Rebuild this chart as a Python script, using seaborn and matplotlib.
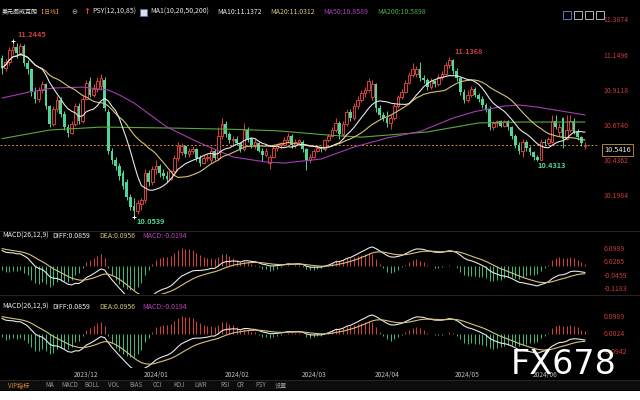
import numpy as np
import pandas as pd
import matplotlib
matplotlib.use("Agg")
import matplotlib.pyplot as plt
from matplotlib.patches import Rectangle
from matplotlib.lines import Line2D
import seaborn as sns

# ---------------- DATA ----------------
opens = [11.13, 11.06, 11.10, 11.18, 11.20, 11.16, 11.21, 11.09, 11.05, 10.90,
         10.85, 10.91, 10.95, 10.80, 10.68, 10.78, 10.84, 10.75, 10.66, 10.62,
         10.68, 10.80, 10.70, 10.85, 10.97, 10.88, 10.92, 10.94, 10.98, 10.76,
         10.50, 10.44, 10.40, 10.35, 10.29, 10.19, 10.13, 10.09, 10.14, 10.17,
         10.35, 10.29, 10.38, 10.40, 10.35, 10.33, 10.31, 10.36, 10.45, 10.49,
         10.53, 10.48, 10.50, 10.51, 10.45, 10.42, 10.45, 10.44, 10.50, 10.45,
         10.60, 10.68, 10.61, 10.57, 10.58, 10.55, 10.51, 10.64, 10.58, 10.54,
         10.55, 10.50, 10.47, 10.42, 10.46, 10.52, 10.54, 10.54, 10.57, 10.60,
         10.54, 10.56, 10.56, 10.51, 10.44, 10.46, 10.50, 10.52, 10.51, 10.57,
         10.60, 10.64, 10.69, 10.61, 10.68, 10.76, 10.72, 10.80, 10.84, 10.89,
         10.91, 10.86, 10.95, 10.79, 10.74, 10.72, 10.69, 10.72, 10.80, 10.86,
         10.90, 10.96, 11.01, 11.02, 11.05, 10.99, 10.98, 10.93, 10.97, 10.95,
         11.00, 11.02, 11.08, 11.11, 11.04, 10.99, 10.90, 10.84, 10.88, 10.92,
         10.88, 10.85, 10.81, 10.78, 10.66, 10.69, 10.70, 10.67, 10.70, 10.66,
         10.60, 10.54, 10.50, 10.56, 10.52, 10.49, 10.46, 10.44, 10.56, 10.55,
         10.56, 10.70, 10.63, 10.72, 10.58, 10.64, 10.70, 10.63, 10.59, 10.53]
highs = [11.15, 11.12, 11.20, 11.2445, 11.23, 11.23, 11.22, 11.11, 11.06, 10.93,
         10.93, 10.97, 10.96, 10.81, 10.80, 10.87, 10.86, 10.77, 10.68, 10.70,
         10.82, 10.82, 10.87, 10.98, 11.00, 10.95, 11.00, 11.02, 11.00, 10.78,
         10.52, 10.46, 10.42, 10.37, 10.31, 10.21, 10.18, 10.17, 10.18, 10.38,
         10.37, 10.40, 10.44, 10.41, 10.38, 10.36, 10.37, 10.47, 10.56, 10.55,
         10.54, 10.52, 10.53, 10.52, 10.47, 10.47, 10.48, 10.52, 10.51, 10.66,
         10.72, 10.70, 10.63, 10.60, 10.60, 10.56, 10.69, 10.66, 10.59, 10.58,
         10.56, 10.52, 10.52, 10.47, 10.53, 10.55, 10.56, 10.59, 10.62, 10.61,
         10.58, 10.58, 10.57, 10.52, 10.48, 10.51, 10.54, 10.53, 10.58, 10.61,
         10.66, 10.72, 10.70, 10.70, 10.78, 10.78, 10.82, 10.87, 10.91, 10.93,
         10.99, 10.98, 10.96, 10.81, 10.76, 10.77, 10.74, 10.82, 10.88, 10.92,
         10.98, 11.03, 11.09, 11.07, 11.10, 11.01, 10.99, 10.99, 10.98, 11.02,
         11.04, 11.10, 11.1368, 11.12, 11.06, 11.00, 10.92, 10.91, 10.94, 10.93,
         10.89, 10.87, 10.82, 10.80, 10.70, 10.71, 10.71, 10.71, 10.71, 10.67,
         10.61, 10.56, 10.58, 10.57, 10.53, 10.50, 10.47, 10.58, 10.58, 10.59,
         10.74, 10.74, 10.69, 10.73, 10.74, 10.74, 10.72, 10.65, 10.60, 10.56]
lows = [11.02, 11.04, 11.08, 11.15, 11.13, 11.14, 11.07, 11.02, 10.87, 10.82,
        10.83, 10.89, 10.78, 10.66, 10.67, 10.76, 10.73, 10.64, 10.59, 10.61,
        10.67, 10.68, 10.69, 10.84, 10.86, 10.86, 10.90, 10.91, 10.77, 10.48,
        10.41, 10.37, 10.30, 10.24, 10.17, 10.10, 10.0539, 10.07, 10.10, 10.15,
        10.26, 10.27, 10.34, 10.32, 10.31, 10.29, 10.30, 10.35, 10.43, 10.47,
        10.46, 10.46, 10.48, 10.43, 10.40, 10.41, 10.43, 10.42, 10.44, 10.44,
        10.58, 10.59, 10.55, 10.53, 10.54, 10.49, 10.50, 10.56, 10.52, 10.51,
        10.49, 10.43, 10.46, 10.38, 10.45, 10.50, 10.51, 10.53, 10.55, 10.52,
        10.52, 10.54, 10.49, 10.37, 10.42, 10.45, 10.49, 10.49, 10.50, 10.56,
        10.59, 10.63, 10.58, 10.60, 10.67, 10.70, 10.71, 10.78, 10.83, 10.86,
        10.90, 10.84, 10.76, 10.72, 10.70, 10.66, 10.65, 10.71, 10.79, 10.85,
        10.89, 10.95, 11.00, 11.00, 10.97, 10.96, 10.91, 10.92, 10.93, 10.94,
        10.98, 11.01, 11.06, 11.02, 10.97, 10.88, 10.82, 10.83, 10.86, 10.86,
        10.83, 10.79, 10.76, 10.64, 10.64, 10.66, 10.66, 10.66, 10.64, 10.58,
        10.52, 10.48, 10.46, 10.50, 10.47, 10.44, 10.4313, 10.44, 10.53, 10.54,
        10.55, 10.65, 10.60, 10.52, 10.57, 10.63, 10.61, 10.57, 10.53, 10.51]
closes = [11.06, 11.10, 11.18, 11.20, 11.16, 11.21, 11.09, 11.05, 10.90, 10.85,
          10.91, 10.95, 10.80, 10.68, 10.78, 10.84, 10.75, 10.66, 10.62, 10.68,
          10.80, 10.70, 10.85, 10.96, 10.88, 10.92, 10.97, 10.99, 10.79, 10.50,
          10.44, 10.40, 10.33, 10.26, 10.19, 10.12, 10.09, 10.15, 10.17, 10.35,
          10.29, 10.38, 10.40, 10.35, 10.33, 10.31, 10.36, 10.45, 10.53, 10.53,
          10.48, 10.50, 10.51, 10.45, 10.42, 10.45, 10.46, 10.50, 10.45, 10.60,
          10.68, 10.61, 10.57, 10.58, 10.55, 10.51, 10.64, 10.58, 10.54, 10.56,
          10.50, 10.47, 10.50, 10.46, 10.52, 10.54, 10.55, 10.57, 10.60, 10.54,
          10.56, 10.57, 10.51, 10.44, 10.46, 10.50, 10.52, 10.51, 10.57, 10.60,
          10.64, 10.69, 10.61, 10.68, 10.76, 10.72, 10.80, 10.84, 10.89, 10.91,
          10.97, 10.95, 10.79, 10.74, 10.72, 10.69, 10.72, 10.80, 10.86, 10.90,
          10.96, 11.01, 11.05, 11.05, 10.99, 10.98, 10.93, 10.97, 10.95, 11.00,
          11.02, 11.08, 11.11, 11.04, 10.99, 10.90, 10.84, 10.88, 10.92, 10.88,
          10.85, 10.81, 10.78, 10.66, 10.69, 10.70, 10.67, 10.70, 10.66, 10.60,
          10.54, 10.50, 10.56, 10.52, 10.49, 10.46, 10.44, 10.56, 10.55, 10.58,
          10.70, 10.66, 10.66, 10.58, 10.64, 10.70, 10.63, 10.59, 10.55, 10.5416]

# MA50 / MA200 (their history is not on screen)
ma50_bar = [0, 8, 14, 22, 29, 32, 36, 45, 54, 63, 72, 77, 87, 96, 105, 114, 123, 129, 137, 141, 146, 159]
ma50_val = [10.856, 10.900, 10.924, 10.930, 10.910, 10.877, 10.823, 10.660, 10.552, 10.458, 10.424,
            10.417, 10.444, 10.525, 10.586, 10.630, 10.721, 10.765, 10.802, 10.809, 10.795, 10.742]
ma200_bar = [0, 13, 27, 45, 63, 75, 89, 98, 116, 130, 141, 159]
ma200_val = [10.582, 10.640, 10.660, 10.654, 10.645, 10.635, 10.606, 10.592, 10.627, 10.688, 10.694, 10.694]

# MACD state on the first bar, as printed in the panel header
diff_start = 0.0859
dea_start = 0.0956

month_labels = ["2023/12", "2024/01", "2024/02", "2024/03", "2024/04", "2024/05", "2024/06"]
month_bar = [23, 42, 64, 85, 105, 127, 148]

price_ticks = [11.3874, 11.1496, 10.9118, 10.6740, 10.4362, 10.1984]
macd1_ticks = [0.0989, 0.0265, -0.0459, -0.1183]
macd2_ticks = [0.0989, 0.0024, -0.0942]
last_price = 10.5416

toolbar_items = ["VIP指标", "MA", "MACD", "BOLL", "VOL", "BIAS", "CCI", "KDJ", "LWR", "RSI", "CR", "PSY", "设置"]

# ---------------- COLOURS ----------------
RED = "#d9403c"
GREEN = "#4fd49a"
TXT_RED = "#c83c3c"
C_MA10 = "#e6e6e6"
C_MA20 = "#d6c27a"
C_MA50 = "#a63cb4"
C_MA200 = "#5aa83c"
ORANGE = "#d98a3a"

# ---------------- DERIVED ----------------
df = pd.DataFrame({"open": opens, "high": highs, "low": lows, "close": closes})
df["bar"] = np.arange(len(df))
df["ma10"] = df["close"].rolling(10, min_periods=1).mean()
df["ma20"] = df["close"].rolling(20, min_periods=1).mean()

# MACD(26,12,9), EMAs seeded so the first bar matches the header values
e12 = [closes[0] + diff_start]
e26 = [closes[0]]
dea = [dea_start]
for c in closes[1:]:
    e12.append(e12[-1] + 2 / 13 * (c - e12[-1]))
    e26.append(e26[-1] + 2 / 27 * (c - e26[-1]))
    dea.append(dea[-1] + 2 / 10 * ((e12[-1] - e26[-1]) - dea[-1]))
df["diff"] = np.array(e12) - np.array(e26)
df["dea"] = dea
df["hist"] = 2 * (df["diff"] - df["dea"])

# ---------------- FIGURE ----------------
sns.set_theme(style="dark", rc={"axes.facecolor": "black", "figure.facecolor": "black"})
plt.rcParams["font.family"] = ["Noto Sans CJK SC", "DejaVu Sans"]

W, H = 640, 400
fig = plt.figure(figsize=(6.4, 4.0), dpi=100)


def box(x0, y0, x1, y1):
    return [x0 / W, 1 - y1 / H, (x1 - x0) / W, (y1 - y0) / H]


def ftext(x, y, s, **kw):
    kw.setdefault("va", "center")
    kw.setdefault("fontsize", 5)
    fig.text(x / W, 1 - y / H, s, **kw)


# bar i sits at pixel 2 + i*3.67
step = 583 / (len(df) - 1)
xlim = (-2 / step, (598 - 2) / step)

ax_p = fig.add_axes(box(0, 3, 598, 230))
ax_m1 = fig.add_axes(box(0, 231, 598, 294), sharex=ax_p)
ax_m2 = fig.add_axes(box(0, 296, 598, 368), sharex=ax_p)

# ---- candles ----
up = df["close"] >= df["open"]
body = (df["close"] - df["open"]).abs().clip(lower=0.004)
low_body = df[["open", "close"]].min(axis=1)
ax_p.vlines(df["bar"], df["low"], df["high"], colors=np.where(up, RED, GREEN), lw=0.7, zorder=2)
ax_p.bar(df["bar"][up], body[up], bottom=low_body[up], width=0.72,
         facecolor="black", edgecolor=RED, lw=0.7, zorder=3)
ax_p.bar(df["bar"][~up], body[~up], bottom=low_body[~up], width=0.72,
         color=GREEN, lw=0, zorder=3)

# ---- moving averages ----
sns.lineplot(x=ma200_bar, y=ma200_val, ax=ax_p, color=C_MA200, lw=0.8, zorder=4)
sns.lineplot(x=ma50_bar, y=ma50_val, ax=ax_p, color=C_MA50, lw=0.8, zorder=4)
sns.lineplot(data=df, x="bar", y="ma20", ax=ax_p, color=C_MA20, lw=0.8, zorder=5)
sns.lineplot(data=df, x="bar", y="ma10", ax=ax_p, color=C_MA10, lw=0.8, zorder=5)

ax_p.axhline(last_price, color=ORANGE, lw=0.7, ls=(0, (2, 2)), zorder=1)

# extreme labels
i_hi = int(np.argmax(highs))
i_lo = int(np.argmin(lows))
i_hi2 = 100 + int(np.argmax(highs[100:]))
i_lo2 = 130 + int(np.argmin(lows[130:]))
ax_p.plot([i_hi, i_lo], [highs[i_hi], lows[i_lo]], "+", color="white", ms=3, mew=0.7, zorder=6)
ax_p.annotate(f"{highs[i_hi]:.4f}", (i_hi, highs[i_hi]), xytext=(3, 1.5), textcoords="offset points",
              color=TXT_RED, fontsize=5.3, ha="left", va="bottom", fontweight="bold")
ax_p.annotate(f"{lows[i_lo]:.4f}", (i_lo, lows[i_lo]), xytext=(2, -1), textcoords="offset points",
              color=GREEN, fontsize=5.3, ha="left", va="top", fontweight="bold")
ax_p.annotate(f"{highs[i_hi2]:.4f}", (i_hi2, highs[i_hi2]), xytext=(4, 1), textcoords="offset points",
              color=TXT_RED, fontsize=5.3, ha="left", va="bottom", fontweight="bold")
ax_p.annotate(f"{lows[i_lo2]:.4f}", (i_lo2, lows[i_lo2]), xytext=(0, -1), textcoords="offset points",
              color=GREEN, fontsize=5.3, ha="left", va="top", fontweight="bold")

ax_p.set_ylim(10.674 - 105 / 148, 10.674 + 122 / 148)
ax_p.set_yticks(price_ticks)
ax_p.set_yticklabels([f"{v:.4f}" for v in price_ticks])

# ---- MACD panels ----
for ax, ticks, top_y, ppu, y0, y1 in ((ax_m1, macd1_ticks, 248, 184, 231, 294),
                                     (ax_m2, macd2_ticks, 316, 181, 296, 368)):
    hcol = np.where(df["hist"] >= 0, RED, "#3cbf80")
    ax.vlines(df["bar"], 0, df["hist"], colors=hcol, lw=0.7, zorder=2)
    sns.lineplot(data=df, x="bar", y="diff", ax=ax, color="#e8e8e8", lw=0.8, zorder=3)
    sns.lineplot(data=df, x="bar", y="dea", ax=ax, color=C_MA20, lw=0.8, zorder=3)
    ax.set_ylim(ticks[0] - (y1 - top_y) / ppu, ticks[0] + (top_y - y0) / ppu)
    ax.set_yticks(ticks)
    ax.set_yticklabels([f"{v:.4f}" for v in ticks])

# common axis styling (after seaborn has set its labels)
for ax in (ax_p, ax_m1, ax_m2):
    ax.set_facecolor("black")
    for sp in ax.spines.values():
        sp.set_visible(False)
    ax.grid(False)
    ax.yaxis.tick_right()
    ax.tick_params(axis="y", length=0, labelsize=5, labelcolor=TXT_RED, pad=4)
    ax.tick_params(axis="x", length=0)
    ax.set_xlabel("")
    ax.set_ylabel("")

ax_p.tick_params(axis="x", labelbottom=False)
ax_m1.tick_params(axis="x", labelbottom=False)
ax_m2.set_xticks(month_bar)
ax_m2.set_xticklabels(month_labels)
ax_m2.tick_params(axis="x", labelsize=4.8, labelcolor="#bdbdbd", pad=2, labelbottom=True)
ax_m2.set_xlim(*xlim)

# ---- panel separators ----
for yy in (230.5, 295, 379.5):
    fig.add_artist(Line2D([0, 1], [1 - yy / H, 1 - yy / H], color="#2a2a2a", lw=0.6))

# ---- header ----
ftext(2, 12, "美元挪威克朗", color="#f0f0f0", fontsize=4.3)
ftext(38, 12, "【日线】", color=ORANGE, fontsize=4.3)
ftext(71, 12, "⊖", color="#bbbbbb", fontsize=5, family="DejaVu Sans")
ftext(83, 12, "↑", color="#e04040", fontsize=6, family="DejaVu Sans", fontweight="bold")
ftext(92, 12, "PSY(12,10,85)", color="#e8e8e8")
fig.add_artist(Rectangle((140 / W, 1 - 16 / H), 7 / W, 7 / H, facecolor="#dddddd", edgecolor="#5070c0", lw=0.6))
ftext(150, 12, "MA1(10,20,50,200)", color="#e8e8e8")
ftext(217, 12, "MA10:11.1372", color="#e8e8e8")
ftext(270, 12, "MA20:11.0312", color="#d6c27a")
ftext(323, 12, "MA50:10.8589", color="#b040c0")
ftext(377, 12, "MA200:10.5898", color="#48b048")
for k, ix in enumerate((563, 574, 585, 596)):
    fig.add_artist(Rectangle((ix / W, 1 - 19 / H), 8 / W, 8 / H, facecolor="black",
                             edgecolor="#6a8ad8" if k == 0 else "#d0d0d0", lw=0.6))

# last price box
ftext(604, 150, f"{last_price:.4f}", color="#e6e6e6", fontsize=5.3,
      bbox=dict(boxstyle="square,pad=0.25", facecolor="black", edgecolor="#c8963c", lw=0.6))

# MACD headers
for yy in (236, 307):
    ftext(2, yy, "MACD(26,12,9)", color="#f0f0f0")
    ftext(52, yy, "DIFF:0.0859", color="#f0f0f0")
    ftext(99, yy, "DEA:0.0956", color="#d6c27a")
    ftext(142, yy, "MACD:-0.0194", color="#c040c0")

# ---- toolbar ----
fig.add_artist(Rectangle((0, 1 - 390 / H), 1, 10 / H, facecolor="#0c0c0c", lw=0))
tool_x = [8, 45, 61, 84, 108, 129, 153, 173, 194, 220, 237, 255, 275]
for name, tx in zip(toolbar_items, tool_x):
    ftext(tx, 385, name, color=ORANGE if name == "VIP指标" else "#9a9a9a", fontsize=4.4)

# white strip at the bottom
fig.add_artist(Rectangle((0, 0), 1, 9.5 / H, facecolor="white", lw=0))

# watermark
ftext(511, 364, "FX678", color="white", fontsize=24, family="DejaVu Sans")

fig.savefig("out.png", dpi=100, facecolor="black")
